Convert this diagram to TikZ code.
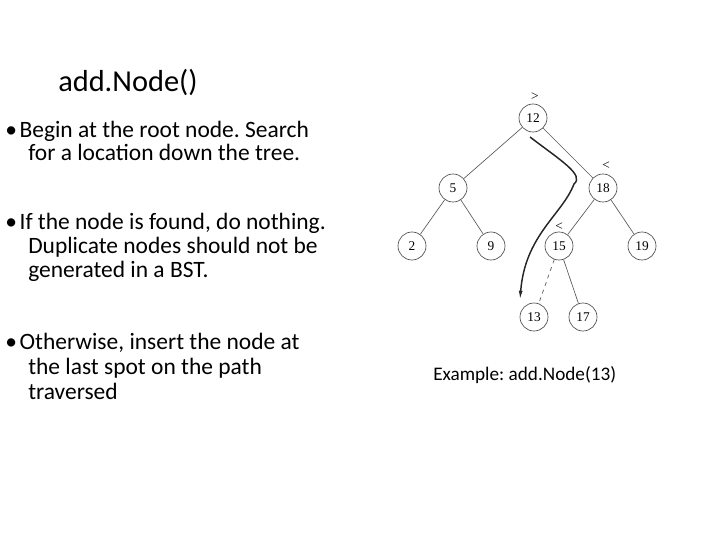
\documentclass[tikz,border=0pt]{standalone}
\usetikzlibrary{arrows.meta}
\usepackage{fontspec}
\setmainfont{Carlito}
\newfontfamily\treefont{Liberation Serif}
\frenchspacing
\begin{document}
\begin{tikzpicture}[x=0.75pt,y=-0.75pt,
  tn/.style={circle,draw=black!70,line width=0.5pt,minimum size=21pt,inner sep=0pt,font=\treefont\fontsize{10}{11}\selectfont},
  ed/.style={draw=black!65,line width=0.5pt},
  txt/.style={anchor=base west,inner sep=0pt,font=\fontsize{17.6}{20}\selectfont},
  cmp/.style={inner sep=0pt,font=\treefont\fontsize{10}{11}\selectfont}]
\useasboundingbox (0,0) rectangle (720,540);
\node[anchor=base west,inner sep=0pt,font=\fontsize{22.8}{26}\selectfont] (title) at (58,91) {add.Node()};
\node[txt] (b1) at (5,137) {\textbullet\hspace{2pt}Begin at the root node. Search};
\node[txt] (b1b) at (28,160) {for a location down the tree.};
\node[txt] (b2) at (5,229) {\textbullet\hspace{2pt}If the node is found, do nothing.};
\node[txt] (b2b) at (28,253) {Duplicate nodes should not be};
\node[txt] (b2c) at (28,277) {generated in a BST.};
\node[txt] (b3) at (5,349) {\textbullet\hspace{2pt}Otherwise, insert the node at};
\node[txt] (b3b) at (28,374) {the last spot on the path};
\node[txt] (b3c) at (28,399) {traversed};
\node[anchor=base west,inner sep=0pt,font=\fontsize{14.4}{17}\selectfont] (ex) at (433,380) {Example: add.Node(13)};
\node[tn] (n12) at (533,118) {12};
\node[tn] (n5) at (453,188) {5};
\node[tn] (n18) at (603,188) {18};
\node[tn] (n2) at (412,246) {2};
\node[tn] (n9) at (491,246) {9};
\node[tn] (n15) at (559,246) {15};
\node[tn] (n19) at (642,246) {19};
\node[tn] (n13) at (534,317) {13};
\node[tn] (n17) at (583,317) {17};
\draw[ed] (n12) -- (n5); \draw[ed] (n12) -- (n18);
\draw[ed] (n5) -- (n2); \draw[ed] (n5) -- (n9);
\draw[ed] (n18) -- (n15); \draw[ed] (n18) -- (n19);
\draw[ed] (n15) -- (n17);
\draw[ed,dashed] (n15) -- (n13);
\node[cmp] (g1) at (535,97) {>};
\node[cmp] (l1) at (606,166) {<};
\node[cmp] (l2) at (559,227) {<};
\coordinate (p0) at (530,137);
\coordinate (p1) at (574,184);
\coordinate (p2) at (520,300);
\draw[line width=1.1pt,black!85,-{Latex[length=7pt,width=3pt]}] (p0) .. controls (560,160) and (585,175) .. (p1) .. controls (562,215) and (525,235) .. (p2);
\end{tikzpicture}
\end{document}
